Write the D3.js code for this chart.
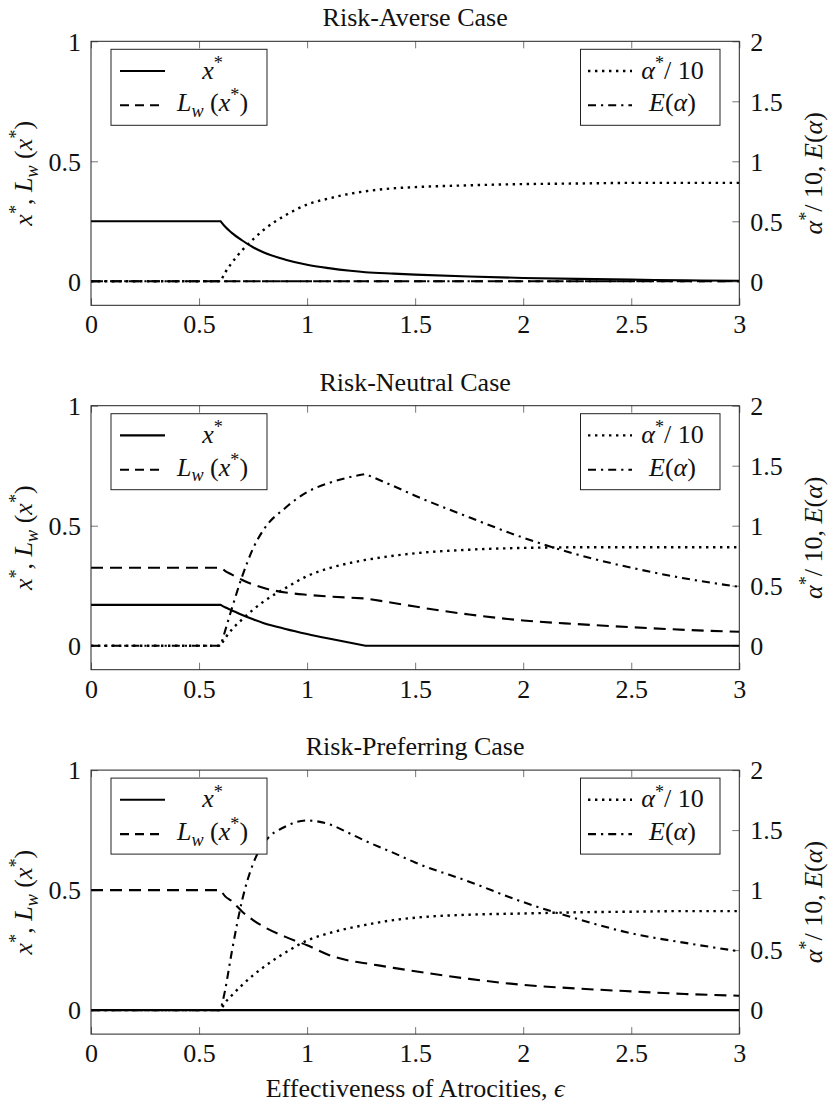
<!DOCTYPE html>
<html><head><meta charset="utf-8">
<script src="https://cdn.jsdelivr.net/npm/d3@7"></script>
<style>
body{margin:0;background:#fff}
text{font-family:"Liberation Serif","DejaVu Serif",serif;fill:#111}
</style></head>
<body><svg id="c" width="828" height="1105"></svg>
<script>
// ---------- data ----------
const panelTitles = ["Risk-Averse Case", "Risk-Neutral Case", "Risk-Preferring Case"];
const xTicks = [0, 0.5, 1, 1.5, 2, 2.5, 3];
const leftTicks = [0, 0.5, 1];
const rightTicks = [0, 0.5, 1, 1.5, 2];
const xLabel = "Effectiveness of Atrocities, ";

const eps = [0, 0.6, 0.62, 0.65, 0.7, 0.75, 0.8, 0.9, 1.0, 1.1, 1.2, 1.27, 1.4, 1.5, 1.75, 2.0, 2.25, 2.5, 2.75, 3.0];

// Risk-averse
const averseX     = [0.25, 0.25, 0.228, 0.203, 0.17, 0.142, 0.12, 0.09, 0.069, 0.055, 0.044, 0.038, 0.032, 0.028, 0.02, 0.014, 0.01, 0.007, 0.004, 0.002];
const averseL     = [0, 0, 0, 0, 0, 0, 0, 0, 0, 0, 0, 0, 0, 0, 0, 0, 0, 0, 0, 0];
const averseAlpha = [0, 0, 0.07, 0.15, 0.26, 0.35, 0.43, 0.55, 0.64, 0.69, 0.73, 0.75, 0.775, 0.785, 0.80, 0.81, 0.815, 0.82, 0.82, 0.82];
const averseE     = [0, 0, 0, 0, 0, 0, 0, 0, 0, 0, 0, 0, 0, 0, 0, 0, 0, 0, 0, 0];
const averseKinks = [0.6];

// Risk-neutral
const neutralX     = [0.17, 0.17, 0.16, 0.148, 0.128, 0.11, 0.094, 0.07, 0.049, 0.03, 0.012, 0, 0, 0, 0, 0, 0, 0, 0, 0];
const neutralL     = [0.325, 0.325, 0.312, 0.297, 0.274, 0.255, 0.24, 0.222, 0.212, 0.205, 0.2, 0.197, 0.178, 0.163, 0.13, 0.105, 0.09, 0.077, 0.066, 0.058];
const neutralAlpha = [0, 0, 0.06, 0.13, 0.22, 0.30, 0.37, 0.48, 0.58, 0.645, 0.69, 0.715, 0.75, 0.77, 0.80, 0.815, 0.82, 0.82, 0.82, 0.82];
const neutralE     = [0, 0, 0.12, 0.30, 0.58, 0.81, 0.97, 1.15, 1.28, 1.355, 1.405, 1.43, 1.33, 1.25, 1.07, 0.90, 0.76, 0.65, 0.56, 0.49];
const neutralKinks = [0.6, 1.27];

// Risk-preferring
const preferX     = [0, 0, 0, 0, 0, 0, 0, 0, 0, 0, 0, 0, 0, 0, 0, 0, 0, 0, 0, 0];
const preferL     = [0.5, 0.5, 0.475, 0.455, 0.41, 0.375, 0.347, 0.305, 0.27, 0.23, 0.205, 0.195, 0.176, 0.162, 0.13, 0.105, 0.09, 0.078, 0.067, 0.06];
const preferAlpha = [0, 0, 0.06, 0.12, 0.21, 0.29, 0.36, 0.48, 0.58, 0.64, 0.685, 0.71, 0.75, 0.77, 0.795, 0.805, 0.815, 0.82, 0.825, 0.825];
const preferE     = [0, 0, 0.16, 0.47, 0.92, 1.22, 1.39, 1.53, 1.58, 1.55, 1.47, 1.41, 1.31, 1.23, 1.07, 0.90, 0.76, 0.64, 0.56, 0.49];
const preferKinks = [0.6];

const panels = [
  {title: panelTitles[0], x: averseX, L: averseL, alpha: averseAlpha, E: averseE, kinks: averseKinks},
  {title: panelTitles[1], x: neutralX, L: neutralL, alpha: neutralAlpha, E: neutralE, kinks: neutralKinks},
  {title: panelTitles[2], x: preferX, L: preferL, alpha: preferAlpha, E: preferE, kinks: preferKinks}
];

// ---------- layout ----------
const FS = 26;
const left = 91, right = 739.3;
const plotH = 264, top0 = 41.3, step = 364.4;
const LW = 2.1;
const styles = {
  solid:   {dash: null,        legendDash: null,        w: LW},
  dashed:  {dash: "12,7",      legendDash: "9,6",       w: LW},
  dotted:  {dash: "2.4,4.6",   legendDash: "2.4,4.6",   w: 2.4},
  dashdot: {dash: "8,5,2.2,5", legendDash: "8,5,2.2,5", w: LW}
};

const svg = d3.select("#c");
const x = d3.scaleLinear().domain([0, 3]).range([left, right]);

function rich(sel, parts, size) {
  let off = 0;
  parts.forEach(([s, kind, ital]) => {
    const target = kind === "sup" ? -0.38 * size : kind === "sub" ? 0.22 * size : 0;
    const t = sel.append("tspan").text(s).attr("dy", target - off);
    off = target;
    if (kind) t.attr("font-size", size * 0.7);
    if (ital) t.attr("font-style", "italic");
  });
}

const xStarParts = [["x", null, true], ["*", "sup", false]];
const LwParts = [["L", null, true], ["w", "sub", true], [" (", null, false], ["x", null, true], ["*", "sup", false], [")", null, false]];
const alphaParts = [["\u03b1", null, true], ["*", "sup", false], ["/ 10", null, false]];
const EParts = [["E", null, true], ["(", null, false], ["\u03b1", null, true], [")", null, false]];
const leftLabelParts = [...xStarParts, [", ", null, false], ...LwParts];
const rightLabelParts = [...alphaParts, [", ", null, false], ...EParts];

function pathFor(ys, yScale, kinks) {
  const pts = eps.map((e, i) => [e, ys[i]]);
  const cuts = [0];
  kinks.forEach(k => { const i = eps.indexOf(k); if (i > 0) cuts.push(i); });
  cuts.push(eps.length - 1);
  const gen = d3.line().x(d => x(d[0])).y(d => yScale(d[1])).curve(d3.curveMonotoneX);
  let d = "";
  for (let s = 0; s < cuts.length - 1; s++) {
    const seg = pts.slice(cuts[s], cuts[s + 1] + 1);
    let p = gen(seg);
    if (s > 0) p = p.replace(/^M/, "L");
    d += p;
  }
  return d;
}

panels.forEach((P, pi) => {
  const top = top0 + pi * step, bottom = top + plotH;
  const yL = d3.scaleLinear().domain([-0.1, 1]).range([bottom, top]);
  const yR = d3.scaleLinear().domain([-0.2, 2]).range([bottom, top]);
  const g = svg.append("g");

  const cid = "clip" + pi;
  svg.append("clipPath").attr("id", cid).append("rect")
    .attr("x", left).attr("y", top).attr("width", right - left).attr("height", plotH);

  const styleAxis = (sel, dy) => {
    sel.attr("font-family", null).attr("font-size", null);
    sel.select(".domain").remove();
    sel.selectAll(".tick line").attr("stroke", "#777").attr("stroke-width", 1);
    sel.selectAll(".tick text").attr("font-size", FS).attr("fill", "#111").attr("dy", dy);
  };
  g.append("g").attr("transform", `translate(0,${bottom})`)
    .call(d3.axisBottom(x).tickValues(xTicks).tickFormat(d3.format("")).tickSize(-7).tickPadding(9.5)).call(styleAxis, "0.71em");
  g.append("g").attr("transform", `translate(0,${top})`)
    .call(d3.axisTop(x).tickValues(xTicks).tickFormat(d3.format("")).tickSize(-7))
    .call(sel => { sel.attr("font-family", null); sel.select(".domain").remove(); sel.selectAll(".tick text").remove();
                   sel.selectAll(".tick line").attr("stroke", "#777").attr("stroke-width", 1); });
  g.append("g").attr("transform", `translate(${left},0)`)
    .call(d3.axisLeft(yL).tickValues(leftTicks).tickFormat(d3.format("")).tickSize(-7).tickPadding(10)).call(styleAxis, "0.34em");
  g.append("g").attr("transform", `translate(${right},0)`)
    .call(d3.axisRight(yR).tickValues(rightTicks).tickFormat(d3.format("")).tickSize(-7).tickPadding(11)).call(styleAxis, "0.34em");

  const curves = g.append("g").attr("clip-path", `url(#${cid})`);
  const drawCurve = (ys, scale, st) => {
    curves.append("path").attr("d", pathFor(ys, scale, P.kinks))
      .attr("fill", "none").attr("stroke", "#000").attr("stroke-width", styles[st].w)
      .attr("stroke-dasharray", styles[st].dash);
  };

  drawCurve(P.x, yL, "solid");
  drawCurve(P.L, yL, "dashed");

  const legend = (bx, bw, lx1, lx2, tcx, entries) => {
    const lg = g.append("g");
    lg.append("rect").attr("x", bx).attr("y", top + 8).attr("width", bw).attr("height", 76)
      .attr("fill", "#fff").attr("stroke", "#222").attr("stroke-width", 1);
    entries.forEach((en, i) => {
      const ly = top + 29.7 + i * 34.3;
      lg.append("line").attr("x1", lx1).attr("x2", lx2).attr("y1", ly).attr("y2", ly)
        .attr("stroke", "#000").attr("stroke-width", styles[en.style].w).attr("stroke-dasharray", styles[en.style].legendDash);
      const t = lg.append("text").attr("x", tcx).attr("y", top + 37.3 + i * 32.5)
        .attr("text-anchor", "middle").attr("font-size", FS);
      rich(t, en.parts, FS);
    });
  };
  legend(111, 156, 120, 165, 212.5, [{style: "solid", parts: xStarParts}, {style: "dashed", parts: LwParts}]);

  drawCurve(P.alpha, yR, "dotted");
  drawCurve(P.E, yR, "dashdot");

  legend(580.5, 139.5, 588, 632, 672.5, [{style: "dotted", parts: alphaParts}, {style: "dashdot", parts: EParts}]);

  g.append("rect").attr("x", left).attr("y", top).attr("width", right - left).attr("height", plotH)
    .attr("fill", "none").attr("stroke", "#222").attr("stroke-width", 1);

  g.append("text").attr("x", (left + right) / 2).attr("y", top - 15).attr("text-anchor", "middle")
    .attr("font-size", FS).text(P.title);

  const cy = (top + bottom) / 2;
  const tl = g.append("text").attr("transform", `translate(32,${cy}) rotate(-90)`)
    .attr("text-anchor", "middle").attr("font-size", FS);
  rich(tl, leftLabelParts, FS);
  const tr = g.append("text").attr("transform", `translate(822,${cy}) rotate(-90)`)
    .attr("text-anchor", "middle").attr("font-size", FS);
  rich(tr, rightLabelParts, FS);
});

const xl = svg.append("text").attr("x", (left + right) / 2).attr("y", 1097).attr("text-anchor", "middle").attr("font-size", FS);
xl.append("tspan").text(xLabel);
xl.append("tspan").text("\u03f5").attr("font-style", "italic");
</script>
</body></html>
